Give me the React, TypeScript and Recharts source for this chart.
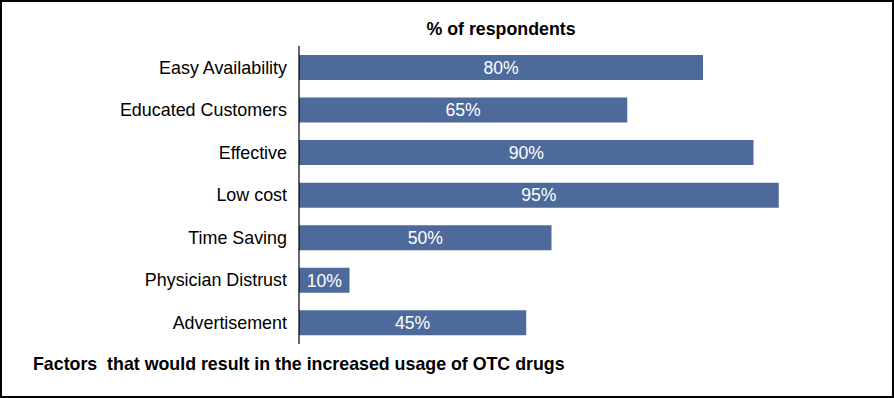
import React from "react";
import { BarChart, Bar, XAxis, YAxis, LabelList } from "recharts";

const categories = [
  "Easy Availability",
  "Educated Customers",
  "Effective",
  "Low cost",
  "Time Saving",
  "Physician Distrust",
  "Advertisement",
];
const values = [80, 65, 90, 95, 50, 10, 45];
const titleText = "% of respondents";
const footerText = "Factors  that would result in the increased usage of OTC drugs";

const data = categories.map((c, i) => ({ name: c, value: values[i] }));

const FONT = "'Liberation Sans', Arial, sans-serif";

export default function App() {
  return (
    <div
      style={{
        position: "absolute",
        left: 0,
        top: 0,
        width: 894,
        height: 398,
        boxSizing: "border-box",
        border: "2px solid #000",
        background: "#fff",
        fontFamily: FONT,
      }}
    >
      <div
        style={{
          position: "absolute",
          left: -2,
          top: -2,
          width: 894,
          height: 398,
        }}
      >
        <BarChart
          width={894}
          height={398}
          layout="vertical"
          data={data}
          margin={{ top: 46, right: 90, bottom: 54, left: 0 }}
          barCategoryGap="21%"
        >
          <XAxis type="number" domain={[0, 100]} hide />
          <YAxis
            type="category"
            dataKey="name"
            width={299}
            axisLine={{ stroke: "#000", strokeWidth: 1.2 }}
            tickLine={false}
            tickSize={0}
            tickMargin={12}
            tick={{ fill: "#000", fontSize: 17.9, fontFamily: FONT }}
            interval={0}
          />
          <Bar dataKey="value" fill="#4E6A9B" isAnimationActive={false}>
            <LabelList
              dataKey="value"
              position="center"
              formatter={(v: number) => `${v}%`}
              style={{ fill: "#fff", fontSize: 17.6, fontFamily: FONT }}
            />
          </Bar>
        </BarChart>
        <div
          style={{
            position: "absolute",
            left: 0,
            width: 1002,
            top: 19,
            textAlign: "center",
            fontWeight: "bold",
            fontSize: 17.8,
            color: "#000",
          }}
        >
          {titleText}
        </div>
        <div
          style={{
            position: "absolute",
            left: 33,
            top: 354,
            fontWeight: "bold",
            fontSize: 17.8,
            color: "#000",
            whiteSpace: "pre",
          }}
        >
          {footerText}
        </div>
      </div>
    </div>
  );
}
